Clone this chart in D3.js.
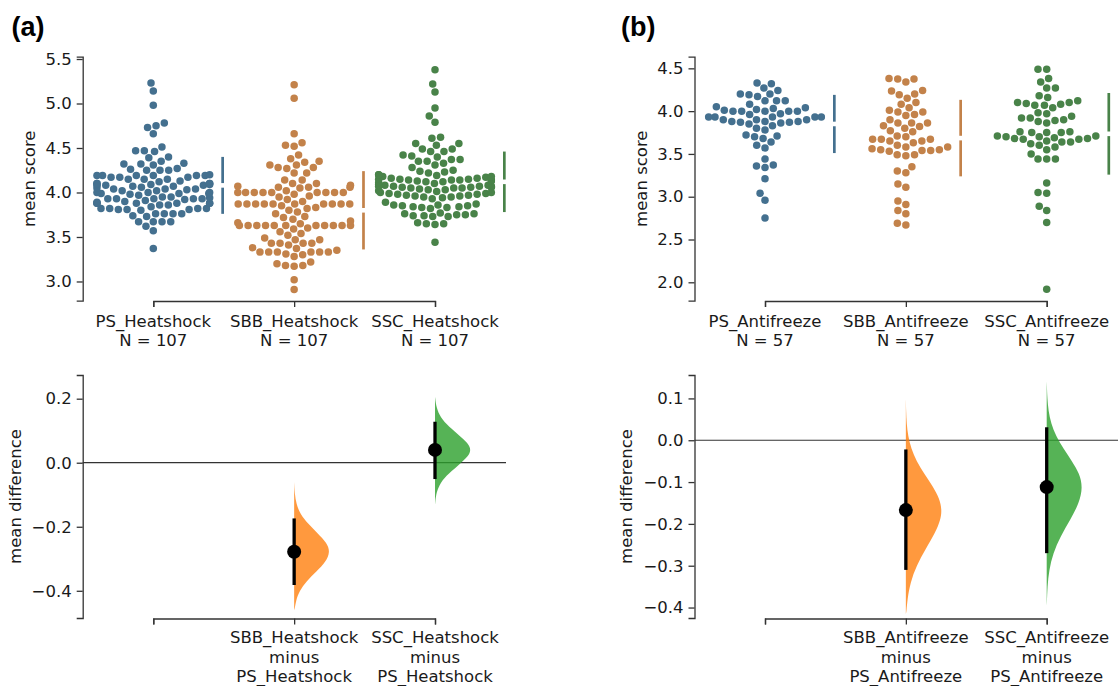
<!DOCTYPE html>
<html><head><meta charset="utf-8">
<script src="https://cdn.jsdelivr.net/npm/d3@7"></script>
<style>
body{margin:0;background:#fff}
svg text{font-family:"DejaVu Sans",sans-serif}
</style>
</head><body>
<svg id="chart" width="1118" height="686"></svg>
<script>
// ---------------- DATA ----------------
const hsCategories = ["PS_Heatshock", "SBB_Heatshock", "SSC_Heatshock"];
const hsN = [107, 107, 107];
const hsPS = [5.23,5.14,4.98,4.78,4.75,4.73,4.66,4.51,4.47,4.47,4.46,4.40,4.39,4.35,4.33,4.32,4.32,4.31,4.27,4.26,4.25,4.25,4.25,
4.20,4.19,4.19,4.19,4.19,4.19,4.19,4.17,4.17,4.17,4.15,4.15,4.15,
4.13,4.12,4.10,4.10,4.10,4.10,4.09,4.09,
4.08,4.08,4.08,4.07,4.07,4.06,4.05,4.04,4.04,4.04,4.03,
4.02,4.02,4.00,4.00,4.00,3.99,3.99,3.99,3.98,3.97,
3.95,3.95,3.94,3.93,3.93,3.93,3.93,3.93,3.92,3.91,
3.90,3.89,3.88,3.88,3.88,3.88,3.88,3.88,3.86,3.86,
3.84,3.82,3.82,3.82,3.82,3.81,3.81,3.81,3.80,
3.76,3.76,3.76,3.76,3.74,3.73,
3.67,3.67,3.67,3.67,
3.62,3.57,3.37];
const hsSBB = [5.21,5.06,4.66,4.56,4.53,4.52,4.42,4.38,4.35,
4.34,4.31,4.31,4.28,4.28,4.27,4.22,4.22,
4.14,4.14,
4.10,4.10,4.08,4.07,4.06,4.06,4.06,4.05,
4.02,4.00,4.00,4.00,4.00,4.00,4.00,4.00,4.00,4.00,3.98,3.96,3.95,3.92,
3.90,3.87,3.87,3.87,3.87,3.87,3.87,3.87,3.87,3.87,3.87,3.85,3.83,3.82,3.80,3.78,
3.76,3.73,3.72,3.70,
3.68,3.66,3.65,3.63,3.63,3.63,3.63,3.63,3.63,3.63,3.63,3.63,3.63,3.63,3.60,
3.59,3.56,3.54,3.52,3.49,
3.47,3.47,3.43,3.43,3.43,3.41,3.43,
3.38,3.37,3.35,3.33,3.33,3.33,3.33,3.33,3.33,3.31,3.30,3.28,
3.22,3.20,3.18,3.18,3.17,
3.02,2.91];
const hsSSC = [5.38,5.22,5.13,4.95,4.86,4.79,4.62,4.61,4.55,4.55,4.53,4.49,4.49,4.46,4.46,4.42,4.41,4.40,4.37,4.37,4.35,4.35,4.33,4.31,4.28,4.25,4.24,4.23,4.22,4.20,4.20,4.18,
4.19,4.18,4.17,4.16,4.16,4.15,4.15,4.15,4.14,4.14,4.14,4.14,4.13,4.13,4.12,4.12,4.11,
4.10,4.09,4.08,4.08,4.07,4.07,4.07,4.07,4.06,4.06,4.06,4.05,4.05,4.05,4.04,4.03,4.03,
4.02,4.01,4.00,4.00,3.99,3.99,3.98,3.98,3.97,3.97,3.96,3.96,3.95,3.95,3.94,3.93,
3.89,3.87,3.86,3.86,3.85,3.85,3.84,3.84,3.83,3.83,3.82,
3.77,3.76,3.76,3.75,3.75,3.74,3.74,3.73,3.73,
3.66,3.65,3.65,3.64,
3.44];
const hsMean = [4.08, 3.80, 4.12];
const hsSD = [0.32, 0.44, 0.34];
const hsDiffLabels = ["SBB_Heatshock\nminus\nPS_Heatshock", "SSC_Heatshock\nminus\nPS_Heatshock"];
const hsDiff = [-0.278, 0.040];
const hsCILow = [-0.382, -0.051];
const hsCIHigh = [-0.174, 0.128];
const hsViolinSBB_y = [-0.46,-0.455,-0.43,-0.40,-0.37,-0.34,-0.31,-0.278,-0.25,-0.22,-0.19,-0.16,-0.13,-0.095,-0.06];
const hsViolinSBB_d = [0,0.02,0.05,0.15,0.34,0.62,0.88,1.0,0.91,0.65,0.38,0.17,0.06,0.015,0];
const hsViolinSSC_y = [-0.13,-0.125,-0.10,-0.07,-0.04,-0.01,0.02,0.04,0.06,0.09,0.12,0.15,0.18,0.20,0.205];
const hsViolinSSC_d = [0,0.006,0.027,0.11,0.31,0.63,0.93,1.0,0.93,0.63,0.31,0.11,0.027,0.009,0];

const afCategories = ["PS_Antifreeze", "SBB_Antifreeze", "SSC_Antifreeze"];
const afN = [57, 57, 57];
const afPS = [4.33,4.32,4.27,4.24,4.20,4.20,4.19,4.17,4.12,4.12,4.12,4.08,
4.05,4.04,4.03,4.02,4.01,4.00,4.00,4.00,4.00,4.00,3.97,3.96,
3.93,3.93,3.93,3.93,3.93,3.90,3.90,3.90,3.88,3.88,3.88,3.87,3.87,3.86,3.85,3.83,
3.80,3.78,3.72,3.71,3.70,3.68,3.64,
3.60,3.57,
3.44,3.37,3.36,3.34,
3.21,3.04,2.96,2.75];
const afSBB = [4.38,4.375,4.375,4.34,4.24,4.235,4.20,4.19,4.15,4.10,4.08,
4.04,4.01,3.99,3.99,3.96,3.95,
3.90,3.86,3.86,3.86,3.83,3.82,3.80,3.77,3.76,
3.71,3.70,3.67,3.67,3.67,3.65,3.65,3.63,
3.60,3.58,3.58,3.56,3.55,3.55,3.54,3.54,3.53,3.49,3.49,3.48,
3.35,3.30,3.28,3.15,3.11,2.95,2.91,2.84,2.80,2.69,2.67];
const afSSC = [4.49,4.49,4.38,4.34,4.27,4.27,4.18,4.16,
4.12,4.10,4.10,4.09,4.08,4.07,4.07,4.04,
3.98,3.97,3.94,3.92,3.92,3.90,3.89,3.88,3.86,
3.76,3.76,3.75,3.75,3.75,3.71,3.71,3.70,3.70,3.69,3.68,3.68,3.67,3.67,3.65,3.64,3.64,3.62,3.60,
3.58,3.55,3.50,3.44,3.44,3.44,
3.16,3.05,3.04,2.89,2.84,2.70,1.92];
const afMean = [3.85, 3.685, 3.735];
const afSD = [0.34, 0.447, 0.477];
const afDiffLabels = ["SBB_Antifreeze\nminus\nPS_Antifreeze", "SSC_Antifreeze\nminus\nPS_Antifreeze"];
const afDiff = [-0.167, -0.112];
const afCILow = [-0.310, -0.270];
const afCIHigh = [-0.022, 0.031];
const afViolinSBB_y = [-0.415,-0.41,-0.38,-0.34,-0.30,-0.26,-0.22,-0.19,-0.167,-0.14,-0.11,-0.08,-0.05,-0.02,0.01,0.04,0.07,0.095,0.10];
const afViolinSBB_d = [0,0.017,0.043,0.126,0.294,0.55,0.823,0.964,1.0,0.937,0.749,0.51,0.296,0.146,0.062,0.022,0.007,0.002,0];
const afViolinSSC_y = [-0.395,-0.39,-0.35,-0.31,-0.27,-0.23,-0.19,-0.15,-0.112,-0.08,-0.05,-0.02,0.01,0.04,0.07,0.10,0.135,0.14];
const afViolinSSC_d = [0,0.005,0.02,0.066,0.178,0.381,0.656,0.905,1.0,0.911,0.704,0.462,0.257,0.121,0.049,0.017,0.004,0];

const hsTopTicks = [3.0, 3.5, 4.0, 4.5, 5.0, 5.5];
const hsBottomTicks = [-0.4, -0.2, 0.0, 0.2];
const afTopTicks = [2.0, 2.5, 3.0, 3.5, 4.0, 4.5];
const afBottomTicks = [-0.4, -0.3, -0.2, -0.1, 0.0, 0.1];

// ---------------- STYLE ----------------
const swarmColors = ["#44708f", "#c3824a", "#498349"];
const violinColors = ["#ff7f0e", "#2ca02c"];
const axisColor = "#333";
const textColor = "#1a1a1a";
const FS = 16.5;

const svg = d3.select("#chart");

function beeswarm(values, y, cx, d, half) {
  const pts = values.map(v => ({v: v, x: cx, y: y(v)}));
  pts.sort((a, b) => a.v - b.v);
  const placed = [];
  for (const p of pts) {
    const nb = [];
    for (let j = placed.length - 1; j >= 0; j--) {
      if (Math.abs(p.y - placed[j].y) < d) nb.push(placed[j]); else break;
    }
    nb.reverse();
    const cands = [cx];
    let leftFirst = true;
    for (const q of nb) {
      const dy = p.y - q.y;
      const dx = Math.sqrt(Math.max(d * d - dy * dy, 0)) * 1.05;
      if (leftFirst) cands.push(q.x - dx, q.x + dx); else cands.push(q.x + dx, q.x - dx);
      leftFirst = !leftFirst;
    }
    const idx = cands.map((c, i) => i).sort((a, b) => (Math.abs(cands[a] - cx) - Math.abs(cands[b] - cx)) || (a - b));
    let chosen = cx;
    for (const i of idx) {
      const c = cands[i];
      let ok = true;
      for (const q of nb) {
        const ddx = c - q.x, ddy = p.y - q.y;
        if (ddx * ddx + ddy * ddy < d * d - 1e-6) { ok = false; break; }
      }
      if (ok) { chosen = c; break; }
    }
    p.x = chosen;
    placed.push(p);
  }
  placed.forEach(p => { p.x = Math.max(cx - half, Math.min(cx + half, p.x)); });
  return placed;
}

function styleAxis(g) {
  g.selectAll("path.domain").attr("stroke", axisColor).attr("stroke-width", 1.3);
  g.selectAll(".tick line").attr("stroke", axisColor).attr("stroke-width", 1.3);
  g.selectAll(".tick text").attr("fill", textColor).style("font-size", FS + "px").style("font-family", "DejaVu Sans");
}

function multiline(g, x, y0, label, lh) {
  const t = g.append("text").attr("x", x).attr("y", y0).attr("text-anchor", "middle")
    .attr("fill", textColor).style("font-size", FS + "px");
  label.split("\n").forEach((line, i) => {
    t.append("tspan").attr("x", x).attr("y", y0 + i * lh).text(line);
  });
}

function drawPanel(cfg) {
  const x = d3.scalePoint().domain(cfg.categories).range(cfg.xRange);
  const step = x.step();
  const yTop = d3.scaleLinear().domain(cfg.topDomain).range([300.7, 56.7]);
  const yBot = d3.scaleLinear().domain(cfg.botDomain).range([618, 375]);

  // ---- top: swarm ----
  const gTop = svg.append("g");
  cfg.groups.forEach((vals, gi) => {
    const cx = x(cfg.categories[gi]);
    const pts = beeswarm(vals, yTop, cx, 8.3, step * 0.4);
    gTop.append("g").selectAll("circle").data(pts).join("circle")
      .attr("cx", p => p.x).attr("cy", p => p.y).attr("r", 3.75)
      .attr("fill", swarmColors[gi]);
    // gapped mean +- sd line
    const lx = d3.max(pts, p => p.x) + 13;
    const m = cfg.means[gi], s = cfg.sds[gi];
    const gap = 2.3;
    gTop.append("line").attr("x1", lx).attr("x2", lx)
      .attr("y1", yTop(m + s)).attr("y2", yTop(m) - gap)
      .attr("stroke", swarmColors[gi]).attr("stroke-width", 2.7);
    gTop.append("line").attr("x1", lx).attr("x2", lx)
      .attr("y1", yTop(m) + gap).attr("y2", yTop(m - s))
      .attr("stroke", swarmColors[gi]).attr("stroke-width", 2.7);
  });
  const axL = svg.append("g").attr("transform", `translate(${cfg.axisX},0)`)
    .call(d3.axisLeft(yTop).tickValues(cfg.topTicks).tickFormat(d3.format(".1f")).tickSizeOuter(0).tickSize(6).tickPadding(5));
  styleAxis(axL);
  const axB = svg.append("g").attr("transform", `translate(0,301)`)
    .call(d3.axisBottom(x).tickSizeOuter(0).tickSize(6).tickFormat(""));
  styleAxis(axB);
  cfg.categories.forEach((c, i) => {
    multiline(svg, x(c), 327, c + "\nN = " + cfg.ns[i], 19.4);
  });
  svg.append("text").attr("transform", `translate(${cfg.ylabTop},178.7) rotate(-90)`)
    .attr("text-anchor", "middle").attr("fill", textColor).style("font-size", FS + "px").text("mean score");

  // ---- bottom: differences ----
  svg.append("line").attr("x1", cfg.axisX).attr("x2", cfg.zeroEnd)
    .attr("y1", yBot(0)).attr("y2", yBot(0)).attr("stroke", axisColor).attr("stroke-width", 1.2);
  cfg.violins.forEach((vv, i) => {
    const cx = x(cfg.categories[i + 1]);
    const pts = vv.y.map((yy, k) => ({y: yy, d: vv.d[k]}));
    const area = d3.area().curve(d3.curveBasis)
      .y(p => yBot(p.y)).x0(cx).x1(p => cx + p.d * 36);
    svg.append("path").datum(pts).attr("d", area)
      .attr("fill", violinColors[i]).attr("fill-opacity", 0.8);
    svg.append("line").attr("x1", cx).attr("x2", cx)
      .attr("y1", yBot(cfg.ciLow[i])).attr("y2", yBot(cfg.ciHigh[i]))
      .attr("stroke", "#000").attr("stroke-width", 3.3);
    svg.append("circle").attr("cx", cx).attr("cy", yBot(cfg.diffs[i])).attr("r", 7).attr("fill", "#000");
  });
  const axL2 = svg.append("g").attr("transform", `translate(${cfg.axisX},0)`)
    .call(d3.axisLeft(yBot).tickValues(cfg.botTicks).tickFormat(d3.format(".1f")).tickSizeOuter(0).tickSize(6).tickPadding(5));
  styleAxis(axL2);
  const axB2 = svg.append("g").attr("transform", `translate(0,618.5)`)
    .call(d3.axisBottom(x).tickSizeOuter(0).tickSize(6).tickFormat(""));
  styleAxis(axB2);
  cfg.diffLabels.forEach((lab, i) => {
    multiline(svg, x(cfg.categories[i + 1]), 643.3, lab, 19.2);
  });
  svg.append("text").attr("transform", `translate(${cfg.ylabBot},496.5) rotate(-90)`)
    .attr("text-anchor", "middle").attr("fill", textColor).style("font-size", FS + "px").text("mean difference");

  svg.append("text").attr("x", cfg.letterX).attr("y", 36)
    .style("font-family", "'Liberation Sans', Arial, sans-serif").style("font-weight", "bold")
    .style("font-size", "27px").attr("fill", "#000").text(cfg.letter);
}

drawPanel({
  categories: hsCategories, ns: hsN, groups: [hsPS, hsSBB, hsSSC],
  means: hsMean, sds: hsSD, xRange: [153.3, 435], axisX: 82.7,
  topDomain: [2.784, 5.526], botDomain: [-0.485, 0.274],
  topTicks: hsTopTicks, botTicks: hsBottomTicks,
  violins: [{y: hsViolinSBB_y, d: hsViolinSBB_d}, {y: hsViolinSSC_y, d: hsViolinSSC_d}],
  diffs: hsDiff, ciLow: hsCILow, ciHigh: hsCIHigh, diffLabels: hsDiffLabels,
  zeroEnd: 506, ylabTop: 35, ylabBot: 20.7, letter: "(a)", letterX: 11.5
});
drawPanel({
  categories: afCategories, ns: afN, groups: [afPS, afSBB, afSSC],
  means: afMean, sds: afSD, xRange: [765, 1046.7], axisX: 694.5,
  topDomain: [1.785, 4.636], botDomain: [-0.425, 0.156],
  topTicks: afTopTicks, botTicks: afBottomTicks,
  violins: [{y: afViolinSBB_y, d: afViolinSBB_d}, {y: afViolinSSC_y, d: afViolinSSC_d}],
  diffs: afDiff, ciLow: afCILow, ciHigh: afCIHigh, diffLabels: afDiffLabels,
  zeroEnd: 1118, ylabTop: 646.7, ylabBot: 632.3, letter: "(b)", letterX: 621
});
</script>
</body></html>
